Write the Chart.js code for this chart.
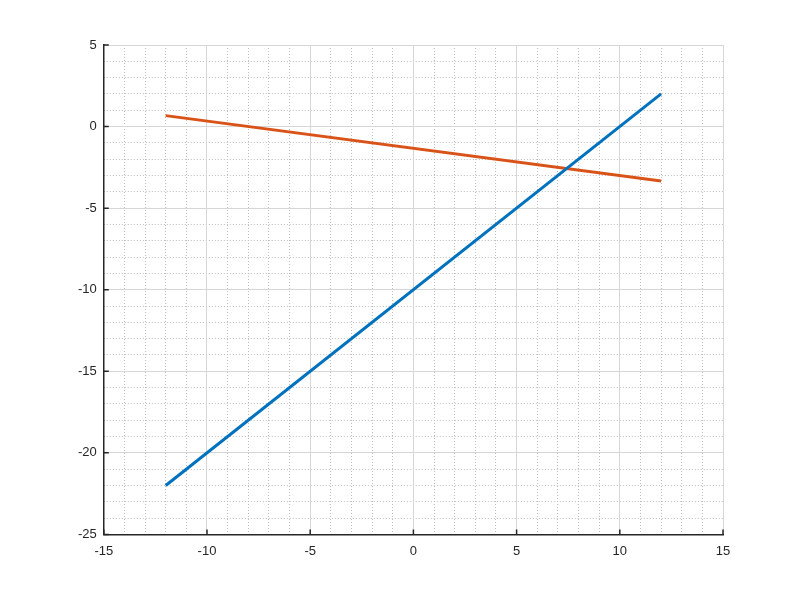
<!DOCTYPE html>
<html>
<head>
<meta charset="utf-8">
<script src="https://cdn.jsdelivr.net/npm/chart.js@4"></script>
<style>
  html, body { margin: 0; padding: 0; background: #ffffff; }
  #wrap { width: 800px; height: 600px; }
</style>
</head>
<body>
<div id="wrap"><canvas id="chart" width="800" height="600"></canvas></div>
<script>
// -------- DATA --------
const xEnds = [-12, 12];
const blueY = [-22, 2];
const orangeY = [0.67, -3.33];

const xMin = -15, xMax = 15;
const yMin = -25, yMax = 5;
const majorStep = 5;
const minorStep = 1;

// -------- STYLE --------
const ink = "#262626";
const majorGrid = "#d6d6d6";
const minorGrid = "#bdbdbd";
const font = { family: "'Liberation Sans', Arial, sans-serif", size: 13 };

function pts(xs, ys) {
    return xs.map((x, i) => ({ x: x, y: ys[i] }));
}

function minorAxis(axis, position) {
    return {
        type: "linear",
        axis: axis,
        position: position,
        min: axis === "x" ? xMin : yMin,
        max: axis === "x" ? xMax : yMax,
        ticks: { display: false, stepSize: minorStep },
        grid: { color: minorGrid, lineWidth: 1, drawTicks: false },
        border: { display: false, dash: [1, 2] }
    };
}

// tick marks pointing into the plot, at the scale's own ticks
const inwardTicks = {
    id: "inwardTicks",
    afterDraw(chart) {
        const ctx = chart.ctx;
        const area = chart.chartArea;
        const len = 5;
        ctx.save();
        ctx.strokeStyle = ink;
        ctx.lineWidth = 1.5;
        ctx.beginPath();
        chart.scales.x.ticks.forEach(t => {
            const px = chart.scales.x.getPixelForValue(t.value);
            ctx.moveTo(px, area.bottom);
            ctx.lineTo(px, area.bottom - len);
        });
        chart.scales.y.ticks.forEach(t => {
            const py = chart.scales.y.getPixelForValue(t.value);
            ctx.moveTo(area.left, py);
            ctx.lineTo(area.left + len, py);
        });
        ctx.stroke();
        ctx.restore();
    }
};

new Chart(document.getElementById("chart"), {
    type: "scatter",
    data: {
        datasets: [
            {
                data: pts(xEnds, blueY),
                showLine: true,
                borderColor: "#0072BD",
                borderWidth: 3,
                pointRadius: 0,
                fill: false
            },
            {
                data: pts(xEnds, orangeY),
                showLine: true,
                borderColor: "#D95319",
                borderWidth: 3,
                pointRadius: 0,
                fill: false
            }
        ]
    },
    options: {
        responsive: false,
        animation: false,
        layout: { padding: { top: 45, right: 77, bottom: 32, left: 71 } },
        plugins: { legend: { display: false }, tooltip: { enabled: false } },
        scales: {
            x2: minorAxis("x", "top"),
            y2: minorAxis("y", "right"),
            x: {
                type: "linear",
                position: "bottom",
                min: xMin,
                max: xMax,
                ticks: { stepSize: majorStep, color: ink, font: font, padding: 9, maxRotation: 0 },
                grid: { color: majorGrid, lineWidth: 1, drawTicks: false },
                border: { color: ink, width: 1.5 }
            },
            y: {
                type: "linear",
                position: "left",
                min: yMin,
                max: yMax,
                ticks: { stepSize: majorStep, color: ink, font: font, padding: 7 },
                grid: { color: majorGrid, lineWidth: 1, drawTicks: false },
                border: { color: ink, width: 1.5 }
            }
        }
    },
    plugins: [inwardTicks]
});
</script>
</body>
</html>
